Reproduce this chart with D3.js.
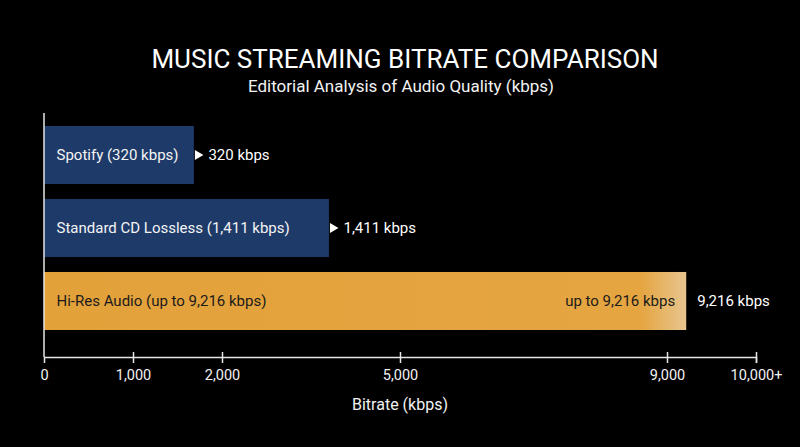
<!DOCTYPE html>
<html>
<head>
<meta charset="utf-8">
<script src="https://cdn.jsdelivr.net/npm/d3@7"></script>
<style>
  html, body { margin: 0; padding: 0; background: #000; }
  text { font-family: Roboto, "Noto Sans", sans-serif; }
</style>
</head>
<body>
<div id="chart"></div>
<script>
// data
let services = ["Spotify (320 kbps)", "Standard CD Lossless (1,411 kbps)", "Hi-Res Audio (up to 9,216 kbps)"];
let bitrates = [320, 1411, 9216];
let valueLabels = ["320 kbps", "1,411 kbps", "9,216 kbps"];
let innerNotes = ["", "", "up to 9,216 kbps"];
let tickValues = [0, 1000, 2000, 5000, 9000, 10000];
let tickLabels = ["0", "1,000", "2,000", "5,000", "9,000", "10,000+"];
// the axis is stretched: tick slots in equal steps, not proportional to kbps
let tickSlots = [0, 1, 2, 4, 7, 8];

let W = 800, H = 447;
let margin = {top: 113, right: 44, bottom: 90, left: 44};
let width = W - margin.left - margin.right,
    height = H - margin.top - margin.bottom;

let svg = d3.select("#chart").append("svg")
    .attr("width", W)
    .attr("height", H)
    .style("background", "#000");

// titles
svg.append("text")
    .attr("x", 405).attr("y", 68)
    .attr("text-anchor", "middle")
    .attr("fill", "#fff")
    .style("font-size", "26px")
    .style("font-weight", 400)
    .text("MUSIC STREAMING BITRATE COMPARISON");

svg.append("text")
    .attr("x", 401).attr("y", 92)
    .attr("text-anchor", "middle")
    .attr("fill", "#f2f2f2")
    .style("font-size", "17px")
    .text("Editorial Analysis of Audio Quality (kbps)");

let g = svg.append("g")
    .attr("transform", "translate(" + margin.left + "," + margin.top + ")");

// axis scale (piecewise) and bar scale (compressed)
let slotW = width / d3.max(tickSlots);
let x = d3.scaleLinear()
    .domain(tickValues)
    .range(tickSlots.map(s => s * slotW));

let barLen = d3.scalePow().exponent(0.433)
    .domain([0, d3.max(bitrates)])
    .range([0, x(d3.max(bitrates))]);

let y = d3.scaleBand()
    .domain(services)
    .range([0, 230])
    .paddingInner(0.205)
    .paddingOuter(0.178);

let defs = svg.append("defs");
let grad = defs.append("linearGradient")
    .attr("id", "hiresGrad")
    .attr("x1", "0%").attr("x2", "100%").attr("y1", "0%").attr("y2", "0%");
grad.append("stop").attr("offset", "0%").attr("stop-color", "#e3a13a");
grad.append("stop").attr("offset", "93%").attr("stop-color", "#e5a541");
grad.append("stop").attr("offset", "100%").attr("stop-color", "#e8c690");

let rows = services.map((s, i) => ({name: s, value: bitrates[i], label: valueLabels[i], note: innerNotes[i], hires: i === services.length - 1}));

let bars = g.selectAll(".bar")
    .data(rows)
    .enter()
    .append("g")
    .attr("class", "bar")
    .attr("transform", d => "translate(0," + y(d.name) + ")");

bars.append("rect")
    .attr("x", 0)
    .attr("width", d => barLen(d.value))
    .attr("height", y.bandwidth())
    .attr("fill", d => d.hires ? "url(#hiresGrad)" : "#1e3a68");

bars.append("text")
    .attr("x", 12.5)
    .attr("y", y.bandwidth() / 2)
    .attr("dy", "0.35em")
    .attr("fill", d => d.hires ? "#1b1b1b" : "#f4f4f4")
    .style("font-size", "15px")
    .text(d => d.name);

bars.filter(d => d.note)
    .append("text")
    .attr("x", d => barLen(d.value) - 11)
    .attr("y", y.bandwidth() / 2)
    .attr("dy", "0.35em")
    .attr("text-anchor", "end")
    .attr("fill", "#1b1b1b")
    .style("font-size", "15px")
    .text(d => d.note);

// pointer triangles for the smaller bars
bars.filter(d => !d.hires)
    .append("path")
    .attr("d", d => {
        let x0 = barLen(d.value) + 1, cy = y.bandwidth() / 2;
        return "M" + x0 + "," + (cy - 5) + "L" + (x0 + 8.5) + "," + cy + "L" + x0 + "," + (cy + 5) + "Z";
    })
    .attr("fill", "#fff");

bars.append("text")
    .attr("x", d => barLen(d.value) + (d.hires ? 11 : 14.5))
    .attr("y", y.bandwidth() / 2)
    .attr("dy", "0.35em")
    .attr("fill", "#fff")
    .style("font-size", "15px")
    .text(d => d.label);

// y axis line
g.append("line")
    .attr("x1", 0).attr("x2", 0)
    .attr("y1", 0).attr("y2", height)
    .attr("stroke", "#e6e6e6")
    .attr("stroke-width", 1.5);

// x axis
let xAxis = g.append("g")
    .attr("transform", "translate(0," + height + ")")
    .call(d3.axisBottom(x)
        .tickValues(tickValues)
        .tickFormat((d, i) => tickLabels[i])
        .tickSizeOuter(0)
        .tickSize(6)
        .tickPadding(7));

xAxis.select(".domain").attr("stroke", "#e6e6e6").attr("stroke-width", 1.5);
xAxis.selectAll(".tick line")
    .attr("stroke", "#e6e6e6")
    .attr("stroke-width", 1.5)
    .attr("y1", -5)
    .attr("display", d => d === 0 ? "none" : null);
xAxis.selectAll(".tick text")
    .attr("fill", "#f2f2f2")
    .style("font-size", "14.5px")
    .style("font-family", "Roboto, sans-serif");

g.append("text")
    .attr("x", width / 2)
    .attr("y", height + 53)
    .attr("text-anchor", "middle")
    .attr("fill", "#f2f2f2")
    .style("font-size", "16px")
    .text("Bitrate (kbps)");
</script>
</body>
</html>
